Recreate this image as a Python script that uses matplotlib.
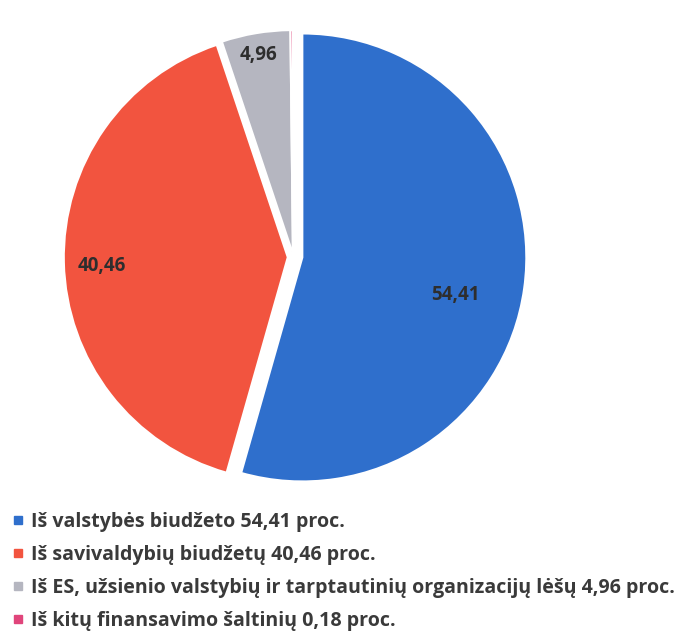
import matplotlib.pyplot as plt
from matplotlib.lines import Line2D

plt.rcParams['font.family'] = ['Open Sans', 'DejaVu Sans']

values = [54.41, 40.46, 4.96, 0.18]
slice_labels = ['54,41', '40,46', '4,96', '']
legend_labels = [
    'Iš valstybės biudžeto 54,41 proc.',
    'Iš savivaldybių biudžetų 40,46 proc.',
    'Iš ES, užsienio valstybių ir tarptautinių organizacijų lėšų 4,96 proc.',
    'Iš kitų finansavimo šaltinių 0,18 proc.',
]
colors = ['#2f6fcc', '#f2543f', '#b5b6c0', '#e0457b']
explode = [0.015, 0.05, 0.0, 0.0]

fig = plt.figure(figsize=(6.82, 6.32), dpi=100)
ax = fig.add_axes([0, 0, 1, 1])
r_px = 224
cx, cy = 299, 632 - 257

wedges, _ = ax.pie(values, colors=colors, startangle=90, counterclock=False,
                   explode=explode, radius=1,
                   wedgeprops=dict(edgecolor='white', linewidth=1.5))
ax.set_aspect('auto')
ax.set_xlim(-cx / r_px, (682 - cx) / r_px)
ax.set_ylim(-cy / r_px, (632 - cy) / r_px)
ax.axis('off')

# the small slices are pulled out up and to the left
for w in wedges[2:]:
    x0, y0 = w.center
    w.set_center((x0 - 0.027, y0 + 0.013))

# slice value labels
label_pos = [(0.70, -0.17), (-0.88, -0.04), (-0.18, 0.90)]
for txt, (x, y) in zip(slice_labels, label_pos):
    ax.text(x, y, txt, ha='center', va='center', fontsize=13.5,
            fontweight='bold', color='#2e2e2e')

handles = [Line2D([0], [0], marker='s', color='none', markerfacecolor=c,
                  markeredgecolor=c, markersize=5.5) for c in colors]
leg = fig.legend(handles, legend_labels, loc='upper left',
                 bbox_to_anchor=(0.0, 1 - 500 / 632), frameon=False,
                 handlelength=0.6, handletextpad=0.4, labelspacing=0.66,
                 borderaxespad=0.2, prop=dict(size=14.1, weight='bold'))
for t in leg.get_texts():
    t.set_color('#3a3a3a')

fig.savefig('out.png', dpi=100)
